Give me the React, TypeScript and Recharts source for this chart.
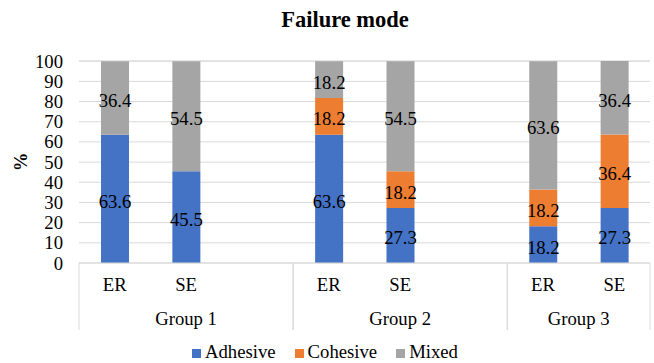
import React from 'react';
import { BarChart, Bar, XAxis, YAxis, CartesianGrid, Legend, LabelList } from 'recharts';

// empty slots after Group 1 and Group 2 leave the wide gaps
const categories = ['ER', 'SE', '', 'ER', 'SE', '', 'ER', 'SE'];
const groups = ['Group 1', 'Group 1', 'Group 1', 'Group 2', 'Group 2', 'Group 2', 'Group 3', 'Group 3'];
const adhesive = [63.6, 45.5, null, 63.6, 27.3, null, 18.2, 27.3];
const cohesive = [null, null, null, 18.2, 18.2, null, 18.2, 36.4];
const mixed = [36.4, 54.5, null, 18.2, 54.5, null, 63.6, 36.4];
const yTicks = [0, 10, 20, 30, 40, 50, 60, 70, 80, 90, 100];
const seriesNames = ['Adhesive', 'Cohesive', 'Mixed'];
const seriesColors = ['#4472C4', '#ED7D31', '#A5A5A5'];

const FONT = 'Liberation Serif, Times New Roman, serif';
const FS = 18.7;
const GRID = '#d9d9d9';
const txt = { fontSize: FS, fontFamily: FONT, fill: '#000' };

const data = categories.map((cat, i) => ({
  cat,
  group: groups[i],
  Adhesive: adhesive[i],
  Cohesive: cohesive[i],
  Mixed: mixed[i],
}));

function CategoryTick(props: any) {
  const { x, y, payload, index } = props;
  const i = payload?.index ?? index;
  const half = payload?.offset || 35.7;
  const g = groups[i];
  const first = groups.indexOf(g);
  const last = groups.lastIndexOf(g);
  const count = last - first + 1;
  return (
    <g>
      <text x={x} y={y + 28} textAnchor="middle" style={txt}>
        {payload.value}
      </text>
      {i === first && (
        <>
          <line x1={x - half} x2={x - half} y1={y} y2={y + 67} stroke={GRID} />
          <text x={x - half + count * half} y={y + 62} textAnchor="middle" style={txt}>
            {g}
          </text>
        </>
      )}
      {i === last && <line x1={x + half} x2={x + half} y1={y} y2={y + 67} stroke={GRID} />}
    </g>
  );
}

function ValueTick(props: any) {
  const { x, y, payload } = props;
  return (
    <text x={x} y={y} textAnchor="end" dominantBaseline="central" style={txt}>
      {payload.value}
    </text>
  );
}

function SegmentLabel(props: any) {
  const { x, y, width, height, value } = props;
  if (value == null) return null;
  return (
    <text x={x + width / 2} y={y + height / 2 + 2.5} textAnchor="middle" dominantBaseline="central" style={txt}>
      {Number(value).toFixed(1)}
    </text>
  );
}

function LegendContent() {
  const s = { fontFamily: FONT, fontSize: FS, color: '#000', lineHeight: '20px' };
  return (
    <div style={{ ...s, display: 'flex', justifyContent: 'center', gap: 19, paddingTop: 12 }}>
      {seriesNames.map((name, i) => (
        <span key={name} style={{ ...s, display: 'flex', alignItems: 'center' }}>
          <span style={{ display: 'inline-block', width: 9, height: 9, background: seriesColors[i], marginRight: 4, marginTop: 2 }} />
          <span style={s}>{name}</span>
        </span>
      ))}
    </div>
  );
}

export default function App() {
  return (
    <div style={{ position: 'absolute', left: 0, top: 0, width: 654, height: 363, background: '#fff', fontFamily: FONT }}>
      <div style={{ position: 'absolute', top: 7, left: 18, width: 654, textAlign: 'center', fontWeight: 'bold', fontSize: 22.5, lineHeight: '26px', color: '#000', fontFamily: FONT }}>
        Failure mode
      </div>
      <BarChart
        width={654}
        height={363}
        data={data}
        margin={{ top: 61, right: 4, left: 0, bottom: 0 }}
        barSize={28}
        style={{ fontFamily: FONT }}
      >
        <CartesianGrid vertical={false} stroke={GRID} />
        <XAxis
          dataKey="cat"
          interval={0}
          tickLine={false}
          tickSize={0}
          tickMargin={0}
          axisLine={{ stroke: GRID }}
          height={67}
          tick={<CategoryTick />}
        />
        <YAxis
          domain={[0, 100]}
          ticks={yTicks}
          interval={0}
          width={79}
          tickLine={false}
          axisLine={false}
          tickSize={0}
          tickMargin={16}
          tick={<ValueTick />}
          label={{
            content: ({ viewBox }: any) => (
              <text
                x={20}
                y={viewBox.y + viewBox.height / 2}
                transform={`rotate(-90 20 ${viewBox.y + viewBox.height / 2})`}
                textAnchor="middle"
                dominantBaseline="central"
                style={{ ...txt, fontWeight: 'bold' }}
              >
                %
              </text>
            ),
          }}
        />
        <Legend verticalAlign="bottom" height={33} content={<LegendContent />} />
        <Bar dataKey="Adhesive" stackId="a" fill={seriesColors[0]} isAnimationActive={false}>
          <LabelList dataKey="Adhesive" content={<SegmentLabel />} />
        </Bar>
        <Bar dataKey="Cohesive" stackId="a" fill={seriesColors[1]} isAnimationActive={false}>
          <LabelList dataKey="Cohesive" content={<SegmentLabel />} />
        </Bar>
        <Bar dataKey="Mixed" stackId="a" fill={seriesColors[2]} isAnimationActive={false}>
          <LabelList dataKey="Mixed" content={<SegmentLabel />} />
        </Bar>
      </BarChart>
    </div>
  );
}
